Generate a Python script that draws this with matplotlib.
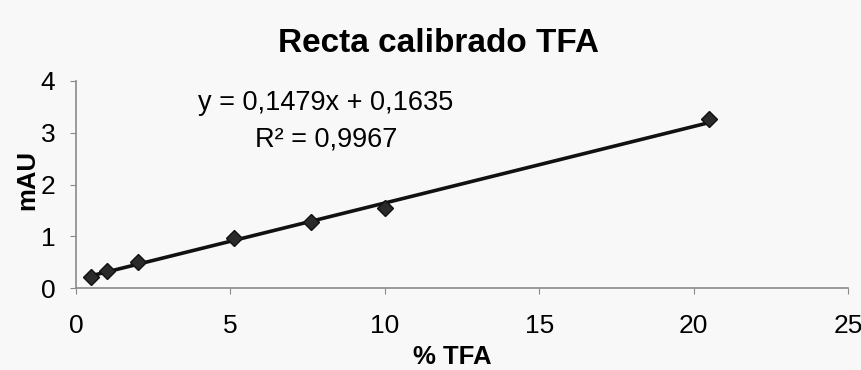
import numpy as np
import matplotlib
matplotlib.use("Agg")
import matplotlib.pyplot as plt

plt.rcParams['font.family'] = ['Liberation Sans', 'DejaVu Sans']

# Patrones de calibrado: % TFA frente a respuesta (mAU)
tfa_pct = [0.5, 1.0, 2.0, 5.1, 7.6, 10.0, 20.5]
mau = [0.21, 0.33, 0.50, 0.97, 1.27, 1.55, 3.27]

# Recta de regresión
pendiente = 0.1479
ordenada = 0.1635
r2 = 0.9967

x_ticks = [0, 5, 10, 15, 20, 25]
y_ticks = [0, 1, 2, 3, 4]

fig = plt.figure(figsize=(8.61, 3.70), dpi=100)
fig.patch.set_facecolor('#f8f8f8')
ax = fig.add_axes([0.0883, 0.2216, 0.8966, 0.5595])
ax.set_facecolor('none')

# línea de tendencia entre el primer y el último patrón
xl = np.array([min(tfa_pct), max(tfa_pct)])
ax.plot(xl, pendiente * xl + ordenada, color='#111111', lw=2.6, solid_capstyle='round', zorder=2)
ax.plot(tfa_pct, mau, linestyle='none', marker='D', markersize=8,
        color='#2a2a2a', markeredgecolor='#111111', zorder=3)

ax.set_xlim(0, 25)
ax.set_ylim(0, 4)
ax.set_xticks(x_ticks)
ax.set_yticks(y_ticks)
for s in ['top', 'right']:
    ax.spines[s].set_visible(False)
for s in ['left', 'bottom']:
    ax.spines[s].set_color('#8a8a8a')
    ax.spines[s].set_linewidth(1.2)
ax.tick_params(axis='x', direction='out', length=4, color='#8a8a8a', labelsize=19, pad=15)
ax.tick_params(axis='y', direction='out', length=4, color='#8a8a8a', labelsize=19, pad=11)

ax.set_xlabel('% TFA', fontsize=18.5, fontweight='bold')
ax.set_ylabel('mAU', fontsize=18.5, fontweight='bold')
ax.yaxis.set_label_coords(-0.047, 0.52)
ax.xaxis.set_label_coords(0.487, -0.39)
ax.xaxis.label.set_va('bottom')

fig.text(439 / 861, 1 - 43 / 370, 'Recta calibrado TFA', fontsize=24, fontweight='bold',
         ha='center', va='center')

ecuacion = 'y = {:.4f}x + {:.4f}'.format(pendiente, ordenada).replace('.', ',')
fig.text(326 / 861, 1 - 103 / 370, ecuacion, fontsize=19.5, ha='center', va='center')
fig.text(326 / 861, 1 - 140 / 370, 'R² = ' + '{:.4f}'.format(r2).replace('.', ','),
         fontsize=19.5, ha='center', va='center')

fig.savefig('out.png', dpi=100, facecolor=fig.get_facecolor())
